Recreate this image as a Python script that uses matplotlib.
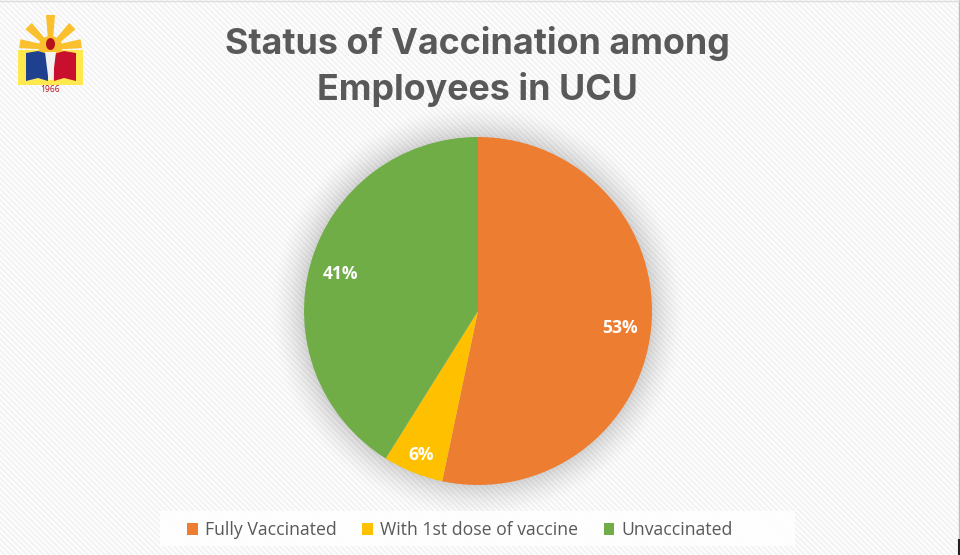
import numpy as np
import matplotlib
matplotlib.use("Agg")
import matplotlib.pyplot as plt
from matplotlib.patches import Polygon, Circle, Rectangle, Ellipse

title_lines = ["Status of Vaccination among", "Employees in UCU"]
categories = ["Fully Vaccinated", "With 1st dose of vaccine", "Unvaccinated"]
values = [53.3, 5.6, 41.1]
colors = ["#ED7D31", "#FFC000", "#70AD47"]

plt.rcParams["hatch.linewidth"] = 1.6
W, H = 960, 555
fig = plt.figure(figsize=(9.6, 5.55), dpi=100, facecolor="white")

def px_axes(x, y, w, h):
    return fig.add_axes([x / W, 1 - (y + h) / H, w / W, h / H])

bg = fig.add_axes([0, 0, 1, 1])
bg.set_xlim(0, W)
bg.set_ylim(H, 0)
bg.axis("off")
bg.add_patch(Rectangle((0, 0), W, H, facecolor="white", edgecolor="#f3f3f3",
                       hatch="\\\\\\\\\\\\", linewidth=0))
bg.plot([958.5, 958.5], [0, 540], color="#bdbdbd", lw=1)
bg.plot([958.5, 958.5], [540, 555], color="#222222", lw=1.5)
bg.plot([0, 960], [0.5, 0.5], color="#dddddd", lw=1)

# soft shadow round the pie
radii = np.arange(206, 172, -2)
for i, r in enumerate(radii):
    bg.add_patch(Circle((478, 311), r, facecolor="black", alpha=0.004 + 0.0007 * i, edgecolor="none"))

# pie
ax = px_axes(304, 137, 348, 348)
wedges, _, autotexts = ax.pie(
    values, colors=colors, startangle=90, counterclock=False, radius=1,
    autopct="%.0f%%", pctdistance=0.82,
    textprops=dict(color="white", fontsize=12.6, fontweight="bold", family="Open Sans"),
)
x6, y6 = autotexts[1].get_position()
autotexts[1].set_position((x6 * 0.88 / 0.82, y6 * 0.88 / 0.82))
for t in autotexts:
    x, y = t.get_position()
    t.set_position((x, y - 0.012))
ax.set_xlim(-1, 1)
ax.set_ylim(-1, 1)

# title
for line, y in zip(title_lines, [54, 100]):
    fig.text(477.5 / W, 1 - y / H, line, ha="center", va="baseline", color="#595959",
             fontsize=25.8, fontweight="bold", family="Inter")

# legend panel sits under the legend
bg.add_patch(Rectangle((160, 511), 635, 35, facecolor="white", edgecolor="none", alpha=0.9))
handles = [Rectangle((0, 0), 1, 1, facecolor=c) for c in colors]
leg = fig.legend(
    handles, categories, ncol=3, loc="center", bbox_to_anchor=(460 / W, 1 - 530 / H),
    frameon=False, labelcolor="#595959", handlelength=0.6, handleheight=0.7,
    handletextpad=0.4, columnspacing=1.45, prop=dict(family="Open Sans", size=12.7),
)

# logo
yellow, red, blue, gold = "#FFE94F", "#C8102E", "#1F3F8F", "#FBC02D"
for ang in [-90, -45, -135, -8, -172]:
    t = np.radians(ang)
    d = np.array([np.cos(t), np.sin(t)])
    n = np.array([-d[1], d[0]])
    c = np.array([50.5, 48.0])
    L = 33 if ang == -90 else 31
    tip = c + d * L
    base = c + d * 8
    bg.add_patch(Polygon([base + n * 2.5, base - n * 2.5, tip - n * 4.5, tip + n * 4.5],
                         facecolor=gold, edgecolor="none"))
bg.add_patch(Rectangle((18, 50), 65, 35, facecolor=yellow, edgecolor="none"))
bg.add_patch(Ellipse((50.5, 47), 24, 22, facecolor=gold, edgecolor="none"))
bg.add_patch(Polygon([(26, 53), (38, 51), (48, 54), (48, 81), (38, 78), (26, 81)],
                     facecolor=blue, edgecolor="none"))
bg.add_patch(Polygon([(54, 54), (64, 51), (76, 53), (76, 81), (64, 78), (54, 81)],
                     facecolor=red, edgecolor="none"))
bg.add_patch(Polygon([(45, 52), (56, 52), (52.5, 80), (48.5, 80)], facecolor="#f2f2f2", edgecolor="none"))
bg.add_patch(Ellipse((50.5, 44), 9, 12, facecolor="#B5121B", edgecolor="none"))
bg.text(50.5, 89, "1966", ha="center", va="center", fontsize=6.2, color="#B5121B", family="Open Sans")

fig.savefig("out.png", dpi=100, facecolor="white")
